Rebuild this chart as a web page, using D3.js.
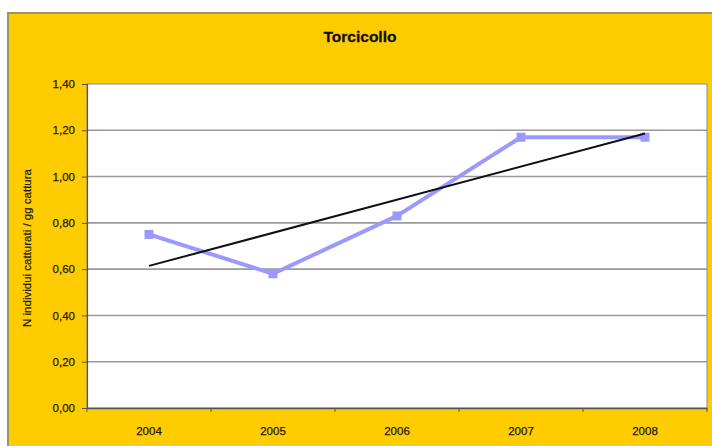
<!DOCTYPE html>
<html>
<head>
<meta charset="utf-8">
<script src="https://cdn.jsdelivr.net/npm/d3@7"></script>
<style>
  html, body { margin: 0; padding: 0; background: #ffffff; }
  svg { display: block; }
  text { font-family: "Liberation Sans", Arial, sans-serif; }
</style>
</head>
<body>
<svg id="chart" width="712" height="446"></svg>
<script>
// Catture di Torcicollo per anno
const years = ["2004", "2005", "2006", "2007", "2008"];
const captures = [0.75, 0.58, 0.83, 1.17, 1.17];
const yTicks = [0, 0.2, 0.4, 0.6, 0.8, 1.0, 1.2, 1.4];
const titleText = "Torcicollo";
const yLabel = "N individui catturati / gg cattura";

const svg = d3.select("#chart");
const W = 712, H = 446;
const plot = { left: 87, top: 84, right: 707, bottom: 408 };

// yellow chart background with an olive frame
svg.append("rect")
  .attr("x", 8).attr("y", 13)
  .attr("width", W + 10).attr("height", H + 10)
  .attr("fill", "#FFCC00")
  .attr("stroke", "#9C9460").attr("stroke-width", 2);

svg.append("text")
  .attr("x", 360).attr("y", 42)
  .attr("text-anchor", "middle")
  .attr("font-size", 15.5).attr("font-weight", "bold")
  .attr("fill", "#111")
  .attr("stroke", "#111").attr("stroke-width", 0.3)
  .text(titleText);

const x = d3.scaleBand().domain(years).range([plot.left, plot.right]);
const y = d3.scaleLinear().domain([0, 1.4]).range([plot.bottom, plot.top]);

// white plot area
svg.append("rect")
  .attr("x", plot.left).attr("y", plot.top)
  .attr("width", plot.right - plot.left).attr("height", plot.bottom - plot.top)
  .attr("fill", "#ffffff")
  .attr("stroke", "#8a8a8a").attr("stroke-width", 1);

// horizontal gridlines
svg.append("g").selectAll("line")
  .data(yTicks.filter(v => v > 0 && v < 1.4))
  .join("line")
  .attr("x1", plot.left).attr("x2", plot.right)
  .attr("y1", d => y(d)).attr("y2", d => y(d))
  .attr("stroke", "#9a9a9a").attr("stroke-width", 1.6);

const fmt = v => d3.format(".2f")(v).replace(".", ",");

const styleTickText = sel => sel
  .attr("font-size", 11.5).attr("fill", "#1a1a1a")
  .attr("stroke", "#1a1a1a").attr("stroke-width", 0.25)
  .attr("font-family", "Liberation Sans, Arial, sans-serif");

// y axis
const yAxis = svg.append("g")
  .attr("transform", `translate(${plot.left},0)`)
  .call(d3.axisLeft(y).tickValues(yTicks).tickFormat(fmt).tickSize(5).tickPadding(7));
yAxis.select(".domain").attr("stroke", "#555").attr("stroke-width", 1.2);
yAxis.selectAll(".tick line").attr("stroke", "#555");
yAxis.selectAll(".tick text").call(styleTickText);

// x axis with ticks at category boundaries
const xAxis = svg.append("g")
  .attr("transform", `translate(0,${plot.bottom})`)
  .call(d3.axisBottom(x).tickSize(0).tickPadding(19));
xAxis.select(".domain").attr("stroke", "#555").attr("stroke-width", 1.4);
xAxis.selectAll(".tick text").call(styleTickText);
svg.append("g").selectAll("line")
  .data(years.concat(["end"]))
  .join("line")
  .attr("x1", (d, i) => plot.left + i * x.bandwidth())
  .attr("x2", (d, i) => plot.left + i * x.bandwidth())
  .attr("y1", plot.bottom).attr("y2", plot.bottom + 4)
  .attr("stroke", "#555");

// y axis title
svg.append("text")
  .attr("transform", `translate(31,${(plot.top + plot.bottom) / 2 + 2}) rotate(-90)`)
  .attr("text-anchor", "middle")
  .attr("font-size", 11.5)
  .attr("fill", "#1a1a1a")
  .attr("stroke", "#1a1a1a").attr("stroke-width", 0.2)
  .text(yLabel);

const cx = d => x(d) + x.bandwidth() / 2;

// least-squares trendline across the years
const n = captures.length;
const xs = d3.range(n);
const mx = d3.mean(xs), my = d3.mean(captures);
const slope = d3.sum(xs, i => (i - mx) * (captures[i] - my)) / d3.sum(xs, i => (i - mx) ** 2);
const intercept = my - slope * mx;
const trend = [0, n - 1].map(i => ({ year: years[i], v: intercept + slope * i }));

// series line and markers
const line = d3.line().x((d, i) => cx(years[i])).y(d => y(d));
svg.append("path")
  .datum(captures)
  .attr("d", line)
  .attr("fill", "none")
  .attr("stroke", "#9999FF")
  .attr("stroke-width", 4)
  .attr("stroke-linejoin", "round");

svg.append("g").selectAll("rect")
  .data(captures)
  .join("rect")
  .attr("x", (d, i) => cx(years[i]) - 4.5)
  .attr("y", d => y(d) - 4.5)
  .attr("width", 9).attr("height", 9)
  .attr("fill", "#9999FF");

svg.append("line")
  .attr("x1", cx(trend[0].year)).attr("y1", y(trend[0].v))
  .attr("x2", cx(trend[1].year)).attr("y2", y(trend[1].v))
  .attr("stroke", "#111").attr("stroke-width", 2);
</script>
</body>
</html>
